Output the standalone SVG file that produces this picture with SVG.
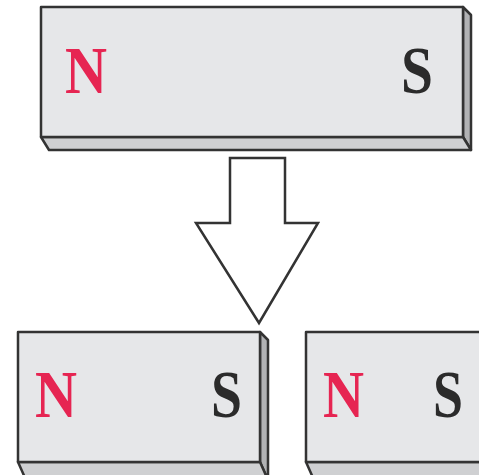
<svg xmlns="http://www.w3.org/2000/svg" width="479" height="475" viewBox="0 0 479 475">
<style>
.face{fill:#e6e7e9;stroke:#333;stroke-width:2.5;stroke-linejoin:round}
.side{fill:#b1b2b4;stroke:#333;stroke-width:2.5;stroke-linejoin:round}
.bot{fill:#cfd0d2;stroke:#333;stroke-width:2.5;stroke-linejoin:round}
.n{font-family:"Liberation Serif",serif;font-weight:bold;font-size:67px;fill:#e62552}
.s{font-family:"Liberation Serif",serif;font-weight:bold;font-size:67px;fill:#2b2b2b}
.arrow{fill:#fff;stroke:#333;stroke-width:2.5;stroke-linejoin:miter}
</style>
<rect width="479" height="475" fill="#fff"/>
<g id="magnet-top">
<polygon class="side" points="463,7 471,15 471,150 463,137"/>
<polygon class="bot" points="41,137 463,137 471,150 49,150"/>
<rect class="face" x="41" y="7" width="422" height="130"/>
<text class="n" x="65" y="93" textLength="42" lengthAdjust="spacingAndGlyphs">N</text>
<text class="s" x="401" y="93" textLength="32" lengthAdjust="spacingAndGlyphs">S</text>
</g>
<g id="arrow">
<polygon class="arrow" points="230,158 285,158 285,223 318,223 259,323 196,223 230,223"/>
</g>
<g id="magnet-left">
<polygon class="side" points="260,332 268,340 268,480 260,462"/>
<polygon class="bot" points="18,462 260,462 268,480 26,480"/>
<rect class="face" x="18" y="332" width="242" height="130"/>
<text class="n" x="35" y="417" textLength="42" lengthAdjust="spacingAndGlyphs">N</text>
<text class="s" x="211" y="417" textLength="31" lengthAdjust="spacingAndGlyphs">S</text>
</g>
<g id="magnet-right">
<polygon class="bot" points="306,462 490,462 490,480 314,480"/>
<rect class="face" x="306" y="332" width="190" height="130"/>
<text class="n" x="323" y="417" textLength="41" lengthAdjust="spacingAndGlyphs">N</text>
<text class="s" x="433" y="417" textLength="30" lengthAdjust="spacingAndGlyphs">S</text>
</g>
</svg>
